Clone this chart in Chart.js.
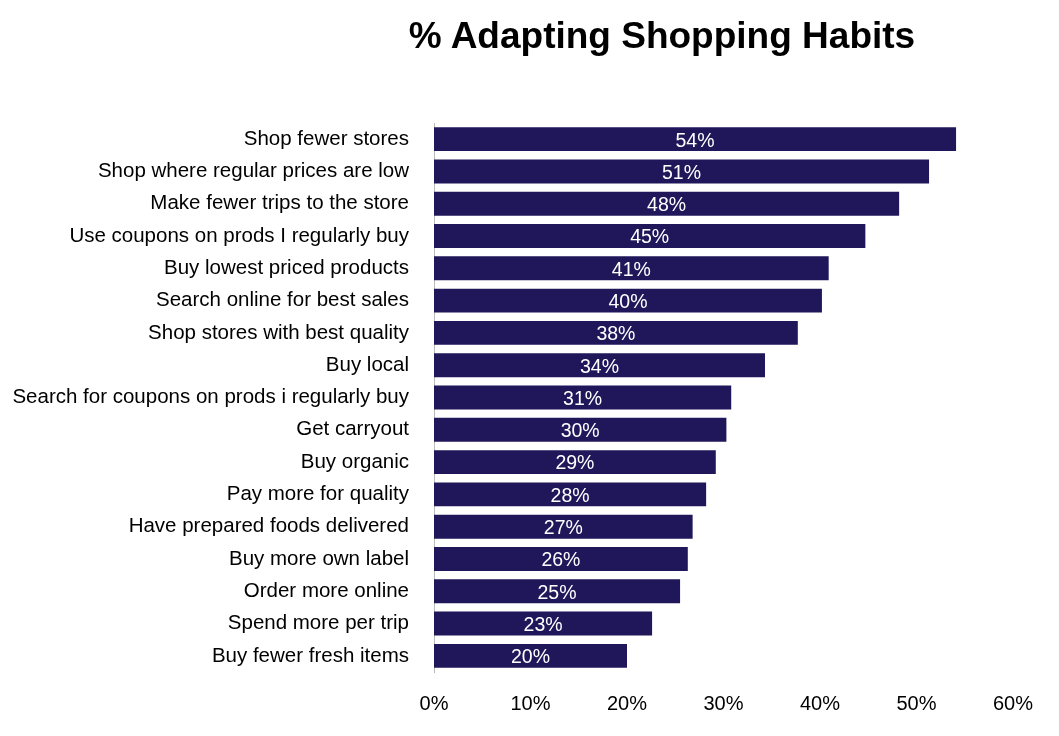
<!DOCTYPE html>
<html>
<head>
<meta charset="utf-8">
<script src="https://cdn.jsdelivr.net/npm/chart.js@4/dist/chart.umd.min.js"></script>
<style>
  body { margin: 0; background: #fff; font-family: "Liberation Sans", Arial, sans-serif; }
  #wrap { position: relative; width: 1059px; height: 736px; }
  #title { position: absolute; top: 15px; left: 0; width: 1324px; text-align: center; margin: 0;
           font-size: 37px; font-weight: bold; color: #000; }
</style>
</head>
<body>
<div id="wrap">
  <h1 id="title">% Adapting Shopping Habits</h1>
  <canvas id="chart" width="1059" height="736"></canvas>
</div>
<script>
const categories = [
  "Shop fewer stores", "Shop where regular prices are low", "Make fewer trips to the store",
  "Use coupons on prods I regularly buy", "Buy lowest priced products", "Search online for best sales",
  "Shop stores with best quality", "Buy local", "Search for coupons on prods i regularly buy",
  "Get carryout", "Buy organic", "Pay more for quality", "Have prepared foods delivered",
  "Buy more own label", "Order more online", "Spend more per trip", "Buy fewer fresh items"
];
const values = [54.1, 51.3, 48.2, 44.7, 40.9, 40.2, 37.7, 34.3, 30.8, 30.3, 29.2, 28.2, 26.8, 26.3, 25.5, 22.6, 20.0];
const barLabels = ["54%", "51%", "48%", "45%", "41%", "40%", "38%", "34%", "31%", "30%", "29%", "28%", "27%", "26%", "25%", "23%", "20%"];

const FONT = "'Liberation Sans', Arial, sans-serif";

const insideLabels = {
  id: "insideLabels",
  afterDatasetsDraw(chart) {
    const ctx = chart.ctx;
    const meta = chart.getDatasetMeta(0);
    ctx.save();
    ctx.fillStyle = "#fff";
    ctx.font = "19.5px " + FONT;
    ctx.textAlign = "center";
    ctx.textBaseline = "middle";
    meta.data.forEach((bar, i) => {
      ctx.fillText(barLabels[i], (bar.x + bar.base) / 2, bar.y + 2);
    });
    ctx.restore();
  }
};

new Chart(document.getElementById("chart"), {
  type: "bar",
  data: {
    labels: categories,
    datasets: [{ data: values, backgroundColor: "#20175a", barPercentage: 0.74, categoryPercentage: 1 }]
  },
  options: {
    indexAxis: "y",
    responsive: false,
    animation: false,
    layout: { padding: { top: 123, right: 46, left: 0, bottom: 8 } },
    plugins: { legend: { display: false }, tooltip: { enabled: false } },
    scales: {
      x: {
        min: 0, max: 60,
        grid: { display: false },
        border: { display: false },
        ticks: { stepSize: 10, color: "#000", padding: 12, callback: v => v + "%",
                 font: { size: 20, family: FONT } }
      },
      y: {
        afterFit: s => { s.width = 434; },
        grid: { display: false },
        border: { display: true, color: "#bbb" },
        ticks: { color: "#000", padding: 17, autoSkip: false,
                 font: { size: 20.5, family: FONT } }
      }
    }
  },
  plugins: [insideLabels]
});
</script>
</body>
</html>
